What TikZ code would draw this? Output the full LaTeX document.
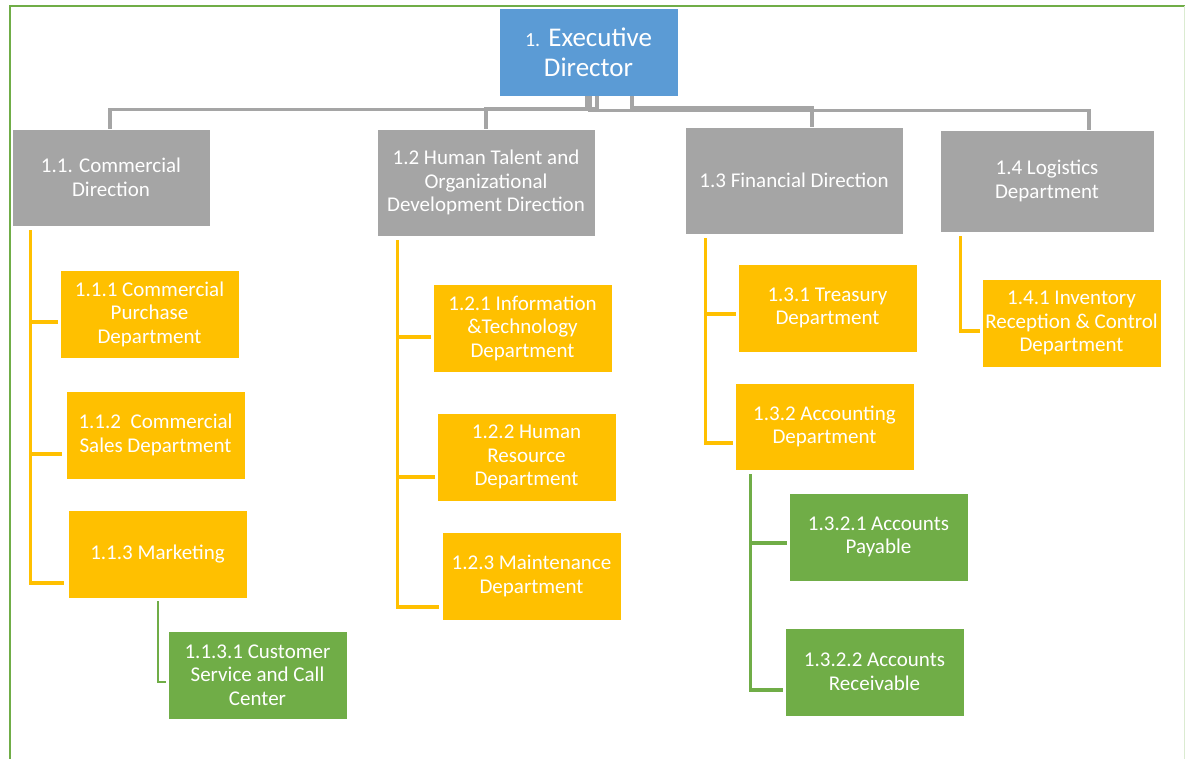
\documentclass[tikz,border=0pt]{standalone}
\usepackage{fontspec}
\setmainfont{Carlito}
\usetikzlibrary{calc}
\definecolor{cblue}{HTML}{5B9BD5}
\definecolor{cgray}{HTML}{A5A5A5}
\definecolor{cgold}{HTML}{FFC000}
\definecolor{cgreen}{HTML}{70AD47}
\tikzset{
  box/.style={rectangle, inner sep=0pt, align=center, text=white, draw=white, line width=0.4pt,
    font=\fontsize{21}{23.5}\selectfont, minimum width=179pt, minimum height=88pt},
  execbox/.style={box, fill=cblue, font=\fontsize{27}{30}\selectfont},
  graybox/.style={box, fill=cgray},
  goldbox/.style={box, fill=cgold},
  greenbox/.style={box, fill=cgreen},
  grayline/.style={draw=cgray, line width=3.2pt},
  goldline/.style={draw=cgold, line width=3.2pt},
  greenline/.style={draw=cgreen, line width=3.2pt},
}
\begin{document}
\begin{tikzpicture}[x=1pt,y=-1pt]
\useasboundingbox (0,0) rectangle (1185,759);
\fill[white] (0,0) rectangle (1185,759);
% frame
\draw[cgreen, line width=2pt] (10,759) -- (10,6) -- (1185,6);
\draw[cgreen!25, line width=1pt] (1184,6) -- (1184,759);

% nodes
\node[execbox, minimum width=179pt, minimum height=88pt] (exec) at (588.5,52) {{\fontsize{20}{30}\selectfont 1.} Executive\\Director};
\node[graybox, minimum width=198pt, minimum height=97pt] (n11) at (111,177.5) {1.1. Commercial\\Direction};
\node[graybox, minimum width=218pt, minimum height=107pt] (n12) at (486,182.5) {1.2 Human Talent and\\Organizational\\Development Direction};
\node[graybox, minimum width=218pt, minimum height=107pt] (n13) at (794,180.5) {1.3 Financial Direction};
\node[graybox, minimum width=214pt, minimum height=102pt] (n14) at (1047,181) {1.4 Logistics\\Department};

\node[goldbox] (n111) at (149.5,314) {1.1.1 Commercial\\Purchase\\Department};
\node[goldbox] (n112) at (155.5,435) {1.1.2~ Commercial\\Sales Department};
\node[goldbox] (n113) at (157.5,554) {1.1.3 Marketing};
\node[greenbox] (n1131) at (257.5,675) {1.1.3.1 Customer\\Service and Call\\Center};

\node[goldbox] (n121) at (522.5,328) {1.2.1 Information\\\&Technology\\Department};
\node[goldbox] (n122) at (526.5,457) {1.2.2 Human\\Resource\\Department};
\node[goldbox] (n123) at (531.5,576) {1.2.3 Maintenance\\Department};

\node[goldbox] (n131) at (827.5,308) {1.3.1 Treasury\\Department};
\node[goldbox, minimum height=87pt] (n132) at (824.5,426.5) {1.3.2 Accounting\\Department};
\node[greenbox] (n1321) at (878.5,537) {1.3.2.1 Accounts\\Payable};
\node[greenbox] (n1322) at (874.5,672) {1.3.2.2 Accounts\\Receivable};

\node[goldbox] (n141) at (1071.5,323) {1.4.1 Inventory\\Reception \& Control\\Department};

% top connectors
\draw[grayline] ($(exec.south)+(-1.5,0)$) -- ++(0,13) -| ($(n11.north)+(-1,0)$);
\draw[grayline] ($(exec.south)+(8.5,0)$) -- ++(0,12) -| (n12.north);
\draw[grayline] ($(exec.south)+(43.5,0)$) -- ++(0,11) -| ($(n13.north)+(18,0)$);
\draw[grayline] ($(exec.south)+(1.5,0)$) -- ++(0,14) -| ($(n14.north)+(42,0)$);

% 1.1 branch
\coordinate (t11) at ($(n11.south west)+(19,4)$);
\draw[goldline] (t11) |- ($(n111.west)+(-2,8)$);
\draw[goldline] (t11) |- ($(n112.west)+(-4,19)$);
\draw[goldline] (t11) |- ($(n113.west)+(-4,29)$);
\coordinate (t113) at ($(n113.south west)+(90,3)$);
\draw[greenline, line width=2pt] (t113) |- ($(n1131.west)+(-2,7)$);

% 1.2 branch
\coordinate (t12) at ($(n12.south west)+(21,4)$);
\draw[goldline] (t12) |- ($(n121.west)+(-2,9)$);
\draw[goldline] (t12) |- ($(n122.west)+(-2,20)$);
\draw[goldline] (t12) |- ($(n123.west)+(-3,31)$);

% 1.3 branch
\coordinate (t13) at ($(n13.south west)+(21,4)$);
\draw[goldline] (t13) |- ($(n131.west)+(-2,6)$);
\draw[goldline] (t13) |- ($(n132.west)+(-2,16.5)$);
\coordinate (t132) at ($(n132.south west)+(16,4)$);
\draw[greenline] (t132) |- ($(n1321.west)+(-2,6)$);
\draw[greenline] (t132) |- ($(n1322.west)+(-2,18)$);

% 1.4 branch
\coordinate (t14) at ($(n14.south west)+(21,4)$);
\draw[goldline] (t14) |- ($(n141.west)+(-2,8)$);
\end{tikzpicture}
\end{document}
